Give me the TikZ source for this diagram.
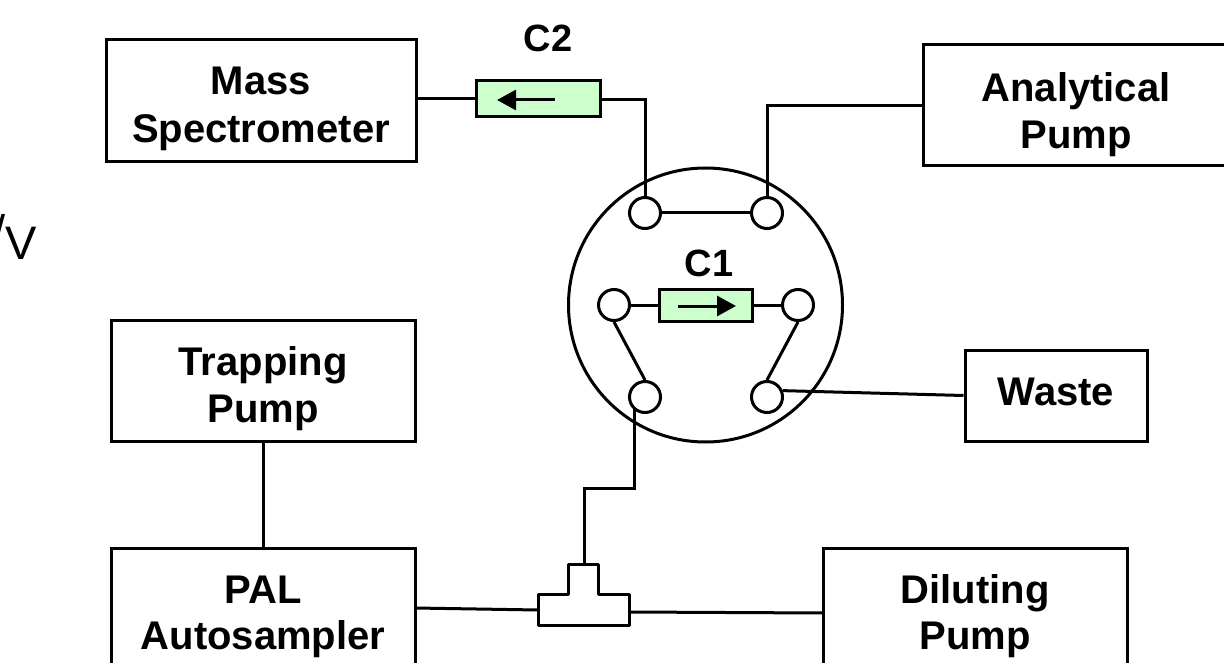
\documentclass[tikz,border=0pt]{standalone}
\usepackage{fontspec}
\setmainfont{Liberation Sans}
\usetikzlibrary{arrows.meta}
\definecolor{colfill}{HTML}{CCFFCC}
\newcommand{\lineup}[1]{\rule{0pt}{#1pt}}
\tikzset{
  x=1pt,y=-1pt,
  wire/.style={draw=black,line width=3pt},
  labelbox/.style={draw=black,line width=3pt,fill=white,align=center,inner sep=0pt,font=\bfseries\fontsize{40}{47.5}\selectfont},
  port/.style={circle,draw=black,line width=3pt,fill=white,minimum size=31pt,inner sep=0pt},
  column/.style={rectangle,draw=black,line width=3pt,fill=colfill,inner sep=0pt},
  tag/.style={font=\bfseries\fontsize{38}{47.5}\selectfont,inner sep=0pt},
  flow/.style={line width=3pt,-{Triangle[length=19pt,width=20pt]}},
  big/.style={font=\fontsize{47}{50}\selectfont,inner sep=0pt}
}
\begin{document}
\begin{tikzpicture}
\useasboundingbox (0,0) rectangle (1224,663);
\clip (0,0) rectangle (1224,663);
% boxes
\node[labelbox,minimum width=310pt,minimum height=122pt] (ms) at (261,101) {\lineup{43.4}Mass\\Spectrometer};
\node[labelbox,minimum width=306pt,minimum height=121pt] (ap) at (1076,105.5) {\lineup{47.4}Analytical\\Pump};
\node[labelbox,minimum width=304pt,minimum height=121pt] (tp) at (263,380.5) {\lineup{45.4}Trapping\\Pump};
\node[labelbox,minimum width=304pt,minimum height=121pt] (pal) at (263,608.5) {\lineup{43.9}PAL\\[-1.5pt]Autosampler};
\node[labelbox,minimum width=304pt,minimum height=121pt] (dp) at (975,608.5) {\lineup{43.9}Diluting\\[-1.5pt]Pump};
\node[labelbox,minimum width=182pt,minimum height=91pt] (waste) at (1056,395.5) {\rule[-8.4pt]{0pt}{32.4pt}Waste};
% valve
\node[circle,draw=black,line width=3pt,minimum size=274pt,inner sep=0pt] (valve) at (705.5,305) {};
\node[port] (p1) at (645,213) {};
\node[port] (p2) at (767,213) {};
\node[port] (p3) at (614,305) {};
\node[port] (p4) at (798,305) {};
\node[port] (p5) at (645,397) {};
\node[port] (p6) at (767,397) {};
% columns
\node[column,minimum width=124pt,minimum height=36pt] (c2) at (538,99) {};
\node[column,minimum width=93pt,minimum height=32pt] (c1) at (705.5,305) {};
\node[tag] (c2t) at (548,38.5) {C2};
\node[tag] (c1t) at (709,263) {C1};
% column arrows
\coordinate (c2a) at (555,100);
\coordinate (c2b) at (497,100);
\coordinate (c1a) at (678,306);
\coordinate (c1b) at (736,306);
\draw[flow] (c2a) -- (c2b);
\draw[flow] (c1a) -- (c1b);
% T piece
\coordinate (tl) at (538,610);
\coordinate (tr) at (629,612);
\coordinate (tt) at (584,564);
\draw[wire,line join=round] (568,564) -- (598,564) -- (598,594) -- (629,594) -- (629,625) -- (538,625) -- (538,594) -- (568,594) -- cycle;
% connectors
\draw[wire] (c2.west) -- (c2.west -| ms.east);
\coordinate (b1) at (645,100);
\draw[wire] (c2.east |- b1) -- (b1) -- (p1.north);
\coordinate (b2) at (767,106);
\draw[wire] (b2 -| ap.west) -- (b2) -- (p2.north);
\draw[wire] (p1.east) -- (p2.west);
\draw[wire] (p3.east) -- (c1.west);
\draw[wire] (c1.east) -- (p4.west);
\draw[wire] (p3.south) -- (p5.north);
\draw[wire] (p4.south) -- (p6.north);
\draw[wire] (p6.22) -- (waste.west);
\coordinate (b3) at (634,488);
\draw[wire] (p5.south west -| b3) -- (b3) -- (tt |- b3) -- (tt);
\draw[wire] (tp.south) -- (pal.north);
\coordinate (pl) at (415,608);
\coordinate (dl) at (823,613);
\draw[wire] (pl) -- (tl);
\draw[wire] (tr) -- (dl);
% cropped label at the left edge
\node[big,anchor=base west] (vv) at (5.5,259) {V};
\node[big,anchor=base east] (sl) at (5.5,249) {/};
\end{tikzpicture}
\end{document}
